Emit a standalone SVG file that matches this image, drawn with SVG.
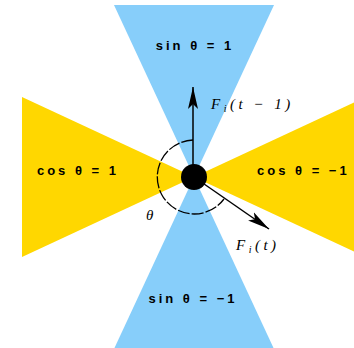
<svg xmlns="http://www.w3.org/2000/svg" width="354" height="348" viewBox="0 0 354 348">
<style>
.blue{fill:#87CEFA}
.gold{fill:#FFD700}
.lbl{font-family:"Liberation Sans",Arial,sans-serif;font-size:13px;font-weight:bold;fill:#000;letter-spacing:3px}
.vec{font-family:"Liberation Serif","Times New Roman",serif;font-size:15px;font-style:italic;fill:#000;letter-spacing:3.5px}
.arrow{stroke:#000;stroke-width:1.5;fill:none}
.arc{stroke:#000;stroke-width:1.3;fill:none;stroke-dasharray:12 2}
</style>
<defs>
<marker id="ah" viewBox="0 0 22 12" refX="22" refY="6" markerWidth="22" markerHeight="12" markerUnits="userSpaceOnUse" orient="auto">
<path d="M0,1 L22,6 L0,11 L5,6 Z" fill="#000"/>
</marker>
</defs>
<g id="sector-top"><polygon class="blue" points="194,177 114,5 274,5"/><text class="lbl" x="195" y="50" text-anchor="middle">sin θ = 1</text></g>
<g id="sector-bottom"><polygon class="blue" points="194,177 114,349 274,349"/><text class="lbl" x="193" y="303" text-anchor="middle">sin θ = −1</text></g>
<g id="sector-left"><polygon class="gold" points="194,177 22,97 22,257"/><text class="lbl" x="78" y="175" text-anchor="middle">cos θ = 1</text></g>
<g id="sector-right"><polygon class="gold" points="194,177 366,97 366,257"/><text class="lbl" x="257" y="175">cos θ = −1</text></g>
<g id="connectors">
<path class="arc" d="M193,140 A37,37 0 1 0 224,199"/>
<line class="arrow" x1="193" y1="177" x2="193" y2="87" marker-end="url(#ah)"/>
<line class="arrow" x1="194" y1="177" x2="269" y2="229" marker-end="url(#ah)"/>
</g>
<g id="center"><circle cx="194" cy="177" r="13" fill="#000"/></g>
<g id="label-ft1"><text class="vec" x="211" y="109">F<tspan font-size="10" dy="3">i</tspan><tspan dy="-3">(t − 1)</tspan></text></g>
<g id="label-ft"><text class="vec" x="236" y="250">F<tspan font-size="10" dy="3">i</tspan><tspan dy="-3">(t)</tspan></text></g>
<g id="label-theta"><text class="vec" x="146" y="220">θ</text></g>
</svg>
